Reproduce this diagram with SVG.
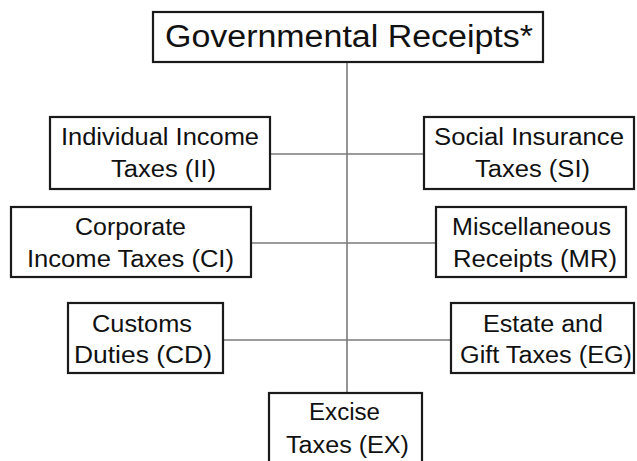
<svg xmlns="http://www.w3.org/2000/svg" width="637" height="461" viewBox="0 0 637 461">
<style>
.box{fill:#fff;stroke:#1a1a1a;stroke-width:2.2}
.t{font-family:"Liberation Sans",Arial,sans-serif;font-size:23.5px;fill:#111}
.title{font-family:"Liberation Sans",Arial,sans-serif;font-size:31px;fill:#111}
.c{stroke:#7a7a7a;stroke-width:1.6;fill:none}
</style>
<rect width="637" height="461" fill="#fff"/>
<g id="connectors">
<line class="c" x1="347" y1="62" x2="347" y2="393"/>
<line class="c" x1="270" y1="154" x2="424" y2="154"/>
<line class="c" x1="251" y1="243" x2="436" y2="243"/>
<line class="c" x1="223" y1="340" x2="451" y2="340"/>
</g>
<g id="root">
<rect class="box" x="153" y="12" width="390" height="50"/>
<text class="title" x="165" y="47" textLength="368" lengthAdjust="spacingAndGlyphs">Governmental Receipts*</text>
</g>
<g id="II">
<rect class="box" x="50" y="117" width="220" height="72"/>
<text class="t" x="61" y="145" textLength="198" lengthAdjust="spacingAndGlyphs">Individual Income</text>
<text class="t" x="111" y="177" textLength="105" lengthAdjust="spacingAndGlyphs">Taxes (II)</text>
</g>
<g id="SI">
<rect class="box" x="424" y="117" width="210" height="72"/>
<text class="t" x="434" y="145" textLength="190" lengthAdjust="spacingAndGlyphs">Social Insurance</text>
<text class="t" x="475" y="177" textLength="115" lengthAdjust="spacingAndGlyphs">Taxes (SI)</text>
</g>
<g id="CI">
<rect class="box" x="11" y="207" width="240" height="70"/>
<text class="t" x="75" y="235" textLength="111" lengthAdjust="spacingAndGlyphs">Corporate</text>
<text class="t" x="27" y="267" textLength="207" lengthAdjust="spacingAndGlyphs">Income Taxes (CI)</text>
</g>
<g id="MR">
<rect class="box" x="436" y="207" width="190" height="70"/>
<text class="t" x="452" y="235" textLength="159" lengthAdjust="spacingAndGlyphs">Miscellaneous</text>
<text class="t" x="453" y="267" textLength="164" lengthAdjust="spacingAndGlyphs">Receipts (MR)</text>
</g>
<g id="CD">
<rect class="box" x="68" y="303" width="155" height="70"/>
<text class="t" x="92" y="332" textLength="100" lengthAdjust="spacingAndGlyphs">Customs</text>
<text class="t" x="74" y="363" textLength="138" lengthAdjust="spacingAndGlyphs">Duties (CD)</text>
</g>
<g id="EG">
<rect class="box" x="451" y="303" width="183" height="70"/>
<text class="t" x="483" y="332" textLength="120" lengthAdjust="spacingAndGlyphs">Estate and</text>
<text class="t" x="460" y="363" textLength="172" lengthAdjust="spacingAndGlyphs">Gift Taxes (EG)</text>
</g>
<g id="EX">
<rect class="box" x="269" y="393" width="153" height="90"/>
<text class="t" x="309" y="420" textLength="71" lengthAdjust="spacingAndGlyphs">Excise</text>
<text class="t" x="286" y="453" textLength="123" lengthAdjust="spacingAndGlyphs">Taxes (EX)</text>
</g>
</svg>
